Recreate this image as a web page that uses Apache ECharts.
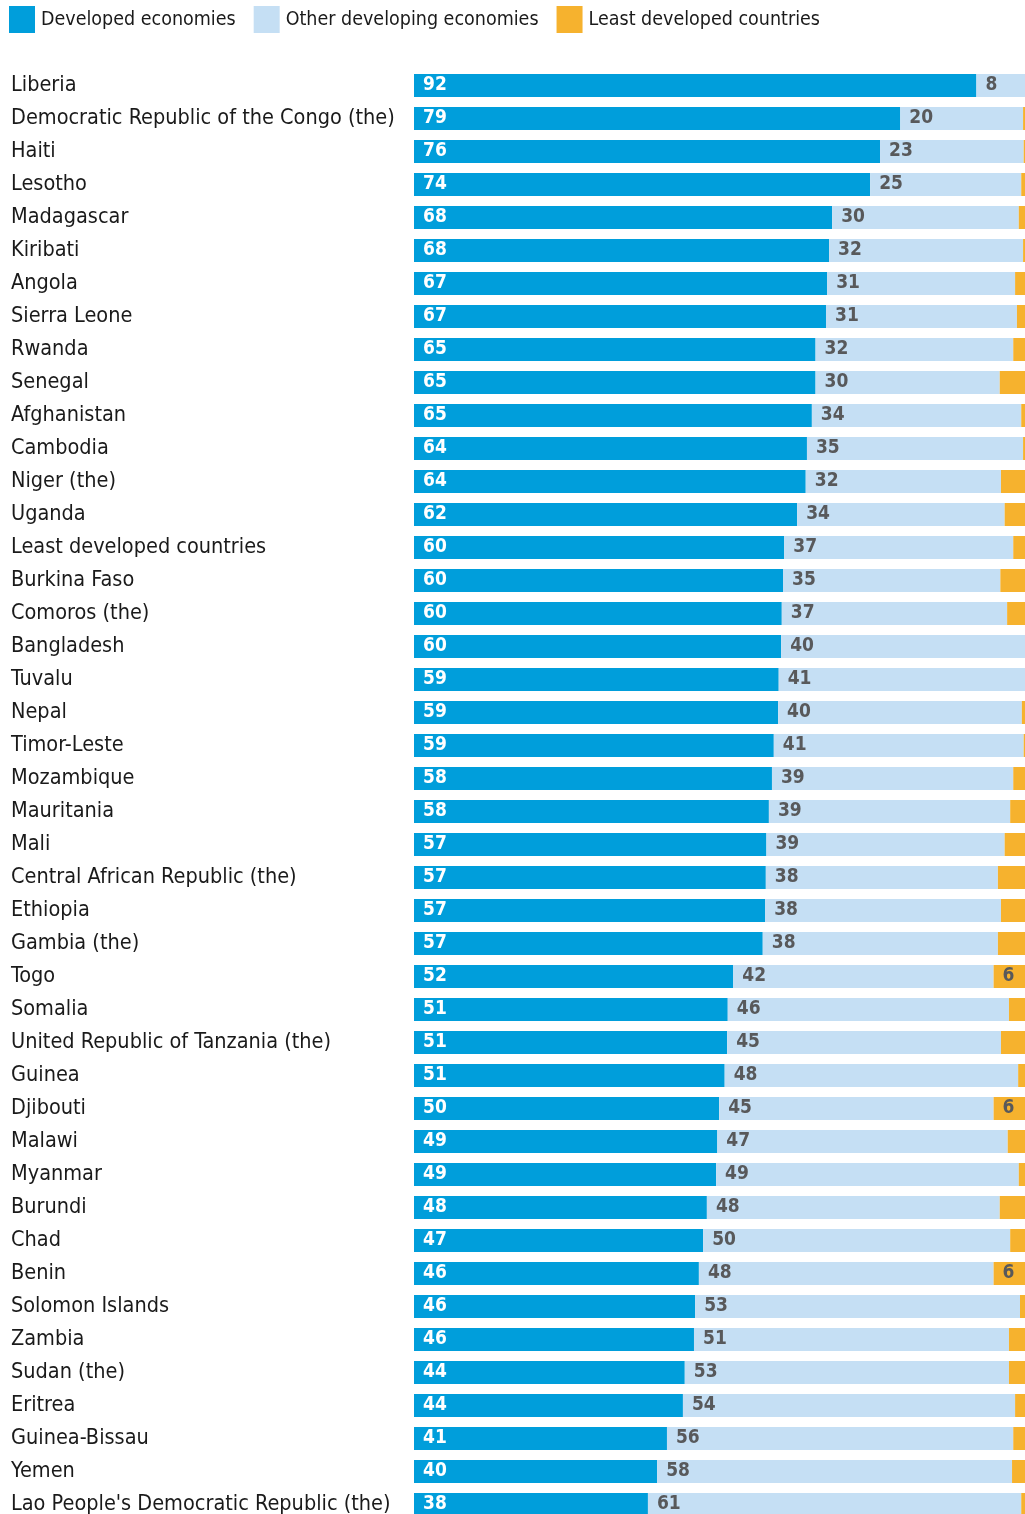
<!DOCTYPE html>
<html>
<head>
<meta charset="utf-8">
<script src="https://cdn.jsdelivr.net/npm/echarts@6/dist/echarts.min.js"></script>
<style>
html,body{margin:0;padding:0;background:#fff;overflow:hidden;width:1025px;height:1514px;}
#chart{width:1032px;height:1530px;}
</style>
</head>
<body>
<div id="chart"></div>
<script>
const countries = ["Liberia","Democratic Republic of the Congo (the)","Haiti","Lesotho","Madagascar","Kiribati","Angola","Sierra Leone","Rwanda","Senegal","Afghanistan","Cambodia","Niger (the)","Uganda","Least developed countries","Burkina Faso","Comoros (the)","Bangladesh","Tuvalu","Nepal","Timor-Leste","Mozambique","Mauritania","Mali","Central African Republic (the)","Ethiopia","Gambia (the)","Togo","Somalia","United Republic of Tanzania (the)","Guinea","Djibouti","Malawi","Myanmar","Burundi","Chad","Benin","Solomon Islands","Zambia","Sudan (the)","Eritrea","Guinea-Bissau","Yemen","Lao People's Democratic Republic (the)"];

const developed = [91.6,79.2,75.9,74.3,68.1,67.6,67.3,67.1,65.4,65.4,64.8,64.0,63.8,62.4,60.3,60.1,59.9,59.8,59.4,59.3,58.6,58.3,57.8,57.4,57.3,57.2,56.8,52.0,51.1,51.0,50.6,49.7,49.4,49.2,47.7,47.1,46.4,45.8,45.6,44.1,43.8,41.2,39.6,38.1];

const otherDeveloping = [8.4,20.0,23.4,24.6,30.4,31.6,30.6,31.1,32.2,30.0,34.1,35.2,31.8,33.8,37.3,35.4,36.7,40.2,40.6,39.7,40.7,39.3,39.3,38.8,37.8,38.4,38.3,42.4,45.8,44.6,47.8,44.7,47.3,49.3,47.7,50.0,48.0,52.9,51.3,52.8,54.1,56.4,57.8,60.8];

const leastDeveloped = [0,0.8,0.7,1.1,1.5,0.8,2.1,1.8,2.4,4.6,1.1,0.8,4.4,3.8,2.4,4.5,3.4,0,0,1.0,0.7,2.4,2.9,3.8,4.9,4.4,4.9,5.6,3.1,4.4,1.6,5.6,3.3,1.5,4.6,2.9,5.6,1.3,3.1,3.1,2.1,2.4,2.6,1.1];

const seriesNames = ["Developed economies","Other developing economies","Least developed countries"];
const colors = ["#009edb","#c5dff4","#f6b22e"];

const narrow = "'Liberation Sans Narrow','Arial Narrow','DejaVu Sans Condensed',sans-serif";

const chart = echarts.init(document.getElementById('chart'), null, {renderer:'canvas'});

function mkSeries(name, data, color, labelColor, minShow) {
  return {
    name: name,
    type: 'bar',
    stack: 'total',
    barWidth: 23,
    data: data,
    itemStyle: {color: color},
    emphasis: {disabled: true},
    label: {
      show: true,
      position: 'insideLeft',
      distance: 9,
      color: labelColor,
      fontFamily: narrow,
      fontWeight: 'bold',
      fontSize: 19,
      formatter: function(p){ return p.value >= minShow ? String(Math.round(p.value)) : ''; }
    }
  };
}

chart.setOption({
  animation: false,
  color: colors,
  legend: {
    left: 9, top: 6, padding: 0,
    itemWidth: 26, itemHeight: 27, itemGap: 18,
    icon: 'rect',
    selectedMode: false,
    data: seriesNames,
    textStyle: {fontFamily: narrow, fontSize: 19.5, color: '#1a1a1a', padding: [2,0,0,1]}
  },
  grid: {left: 414, top: 69, width: 614, height: 1452, containLabel: false},
  xAxis: {type: 'value', min: 0, max: 100, show: false},
  yAxis: {
    type: 'category',
    inverse: true,
    data: countries,
    axisLine: {show: false},
    axisTick: {show: false},
    axisLabel: {
      align: 'left',
      margin: 403,
      fontFamily: narrow,
      fontSize: 21.5,
      color: '#1a1a1a',
      padding: [0,0,6,0]
    }
  },
  series: [
    mkSeries(seriesNames[0], developed, colors[0], '#ffffff', 0),
    mkSeries(seriesNames[1], otherDeveloping, colors[1], '#58595b', 0),
    mkSeries(seriesNames[2], leastDeveloped, colors[2], '#58595b', 5.5)
  ]
});
</script>
</body>
</html>
